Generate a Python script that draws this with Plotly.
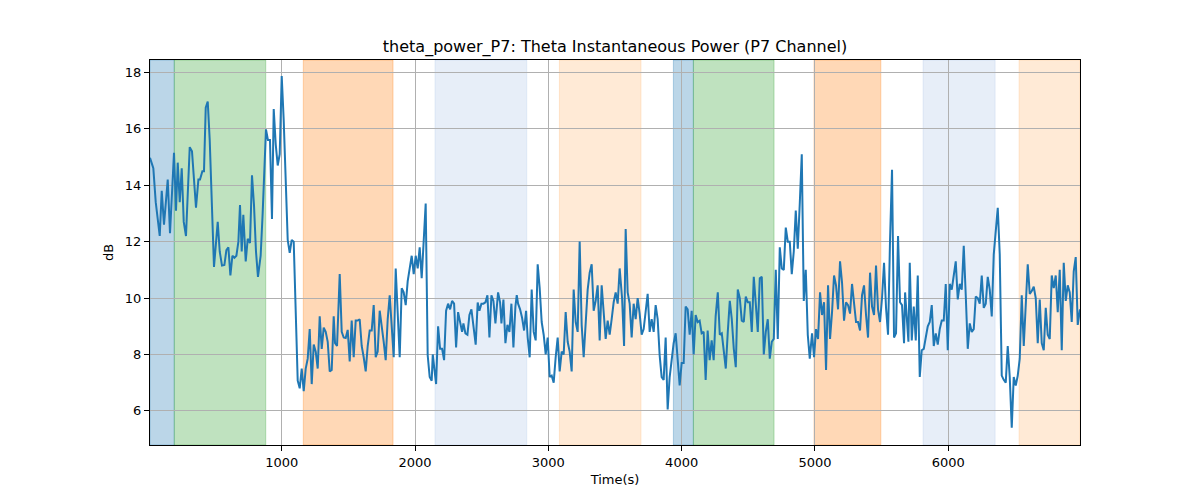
import plotly.graph_objects as go

# ---- data ----
time_s = [12, 37, 55, 85, 100, 117, 145, 162, 192, 207, 220, 235, 250, 265, 282, 310, 327, 357, 375, 387,
          405, 417, 430, 445, 460, 475, 492, 520, 535, 552, 570, 585, 600, 615, 630, 645, 660, 675,
          687, 700, 712, 730, 745, 762, 777, 792, 807, 822, 842, 857, 872, 882, 897, 912, 927, 940, 955, 970,
          985, 1000, 1015, 1030, 1045, 1060, 1075, 1090, 1105, 1120, 1135, 1150, 1165, 1180, 1195, 1210, 1225,
          1240, 1255, 1270, 1285, 1300, 1315, 1330, 1345, 1360, 1375, 1390,
          1400, 1415, 1435, 1450, 1465, 1480, 1495, 1510, 1525, 1540, 1555, 1570, 1585, 1600, 1615, 1630, 1645,
          1660, 1675, 1690, 1705, 1720, 1735, 1750, 1765, 1780, 1795, 1810, 1825, 1840, 1855, 1870, 1885, 1900,
          1915, 1930, 1945, 1960, 1975, 1990, 2005, 2020, 2035, 2050, 2065, 2080, 2095, 2110, 2125,
          2133, 2158, 2173, 2188, 2203, 2218, 2233, 2248, 2263, 2278, 2293, 2308, 2323, 2338, 2353, 2363, 2378,
          2393, 2408, 2423, 2438, 2455, 2470, 2483, 2498, 2513, 2528, 2543, 2558, 2573, 2588, 2603, 2623, 2638,
          2648, 2663, 2678, 2693, 2708, 2723, 2738, 2753, 2763, 2773, 2788, 2803, 2818, 2833,
          2845, 2860, 2875, 2890, 2905, 2920, 2935, 2950, 2965, 2980, 2995, 3010, 3025, 3040, 3055, 3070, 3085,
          3100, 3115, 3130, 3145, 3160, 3175, 3190, 3205, 3220, 3235, 3250, 3265, 3280, 3295, 3310, 3325, 3340,
          3355, 3370, 3385, 3400, 3415, 3430, 3445, 3460, 3475, 3490, 3505, 3520, 3535,
          3553, 3568, 3580, 3595, 3610, 3625, 3640, 3655, 3670, 3685, 3700, 3715, 3730, 3745, 3760, 3775, 3790,
          3805, 3820, 3835, 3850, 3865, 3880, 3895, 3910, 3925, 3940, 3955, 3970, 3985, 4000, 4015, 4030, 4045,
          4060, 4075, 4090, 4105, 4120, 4135, 4150, 4165, 4180, 4195, 4210, 4225, 4240, 4255,
          4271, 4286, 4301, 4316, 4331, 4346, 4361, 4376, 4391, 4406, 4421, 4436, 4451, 4466, 4481, 4496, 4511,
          4526, 4541, 4556, 4571, 4586, 4601, 4616, 4631, 4646, 4661, 4676, 4691, 4706, 4721, 4736, 4751, 4766,
          4781, 4796, 4811, 4826, 4841, 4856, 4871, 4886, 4901, 4916, 4931, 4946, 4961,
          4978, 4993, 5008, 5023, 5038, 5053, 5068, 5083, 5098, 5113, 5128, 5143, 5158, 5173, 5188, 5203, 5218,
          5233, 5248, 5263, 5278, 5293, 5308, 5323, 5338, 5353, 5368, 5383, 5398, 5413, 5428, 5443, 5458, 5473,
          5488, 5503, 5518, 5533, 5548, 5563, 5578, 5593, 5608, 5623, 5638, 5653, 5668,
          5676, 5688, 5701, 5711, 5726, 5741, 5756, 5771, 5786, 5801, 5816, 5831, 5846, 5861, 5876, 5891, 5906,
          5921, 5936, 5951, 5966, 5981, 5996, 6011, 6026, 6041, 6056, 6071, 6086, 6101, 6116, 6131, 6146, 6161,
          6176, 6191, 6206, 6221, 6236, 6251, 6266, 6281, 6296, 6311, 6326, 6341, 6356,
          6371, 6386, 6401, 6416, 6431, 6446, 6461, 6476, 6491, 6506, 6521, 6536, 6551, 6566, 6581, 6596, 6611,
          6626, 6641, 6656, 6671, 6686, 6701, 6716, 6731, 6746, 6761, 6776, 6791, 6806, 6821, 6836, 6851, 6866,
          6881, 6896, 6911, 6926, 6941, 6956, 6971, 6988]

power_db = [14.97, 14.6, 13.4, 12.2, 13.8, 12.6, 14.2, 12.3, 15.15, 13.1, 14.8, 13.4, 14.6, 12.7, 12.2, 15.35, 15.2, 13.2, 14.2, 14.2,
            14.5, 14.5, 16.75, 16.97, 15.6, 13.7, 11.1, 12.7, 11.65, 11.15, 11.17, 11.7, 11.8, 10.8, 11.5, 11.43, 11.5, 12.0,
            13.3, 11.65, 12.95, 11.3, 12.1, 11.95, 14.35, 13.3, 11.65, 10.75, 11.5, 13.0, 15.1, 15.98, 15.6, 15.6, 12.8, 16.7, 15.45, 14.7,
            15.1, 17.87, 16.3, 13.9, 12.06, 11.6, 12.06, 12.0, 9.15, 7.07, 6.8, 7.5, 6.7, 7.5, 7.85, 8.9, 6.95,
            8.35, 8.1, 7.5, 9.35, 8.2, 8.95, 8.8, 8.45, 7.4, 7.45, 9.35,
            8.4, 8.3, 10.85, 8.8, 8.6, 8.58, 8.87, 7.75, 9.2, 7.9, 9.2, 9.2, 9.25, 8.3, 7.9, 7.4, 8.3,
            8.85, 8.85, 9.75, 7.9, 8.1, 9.55, 9.05, 8.45, 7.8, 9.25, 10.1, 8.8, 7.9, 11.05, 9.25, 7.9, 10.35,
            10.2, 9.75, 10.6, 11.05, 11.5, 10.85, 11.5, 11.05, 11.8, 10.7, 12.2, 13.35, 7.97, 7.2, 7.07,
            8.0, 6.95, 9.0, 8.2, 8.2, 7.8, 9.55, 9.8, 9.6, 9.9, 9.8, 8.25, 9.5, 9.15, 8.8, 9.1, 8.75,
            8.7, 9.4, 9.6, 9.0, 8.35, 9.84, 9.55, 9.8, 9.8, 9.85, 10.1, 8.6, 10.1, 9.9, 9.1, 10.2, 9.85,
            9.1, 9.95, 8.4, 9.05, 8.8, 9.8, 8.25, 9.7, 10.1, 9.8, 9.6, 9.3, 8.85, 9.55,
            8.6, 7.9, 10.3, 8.8, 8.5, 11.2, 10.35, 9.15, 8.7, 8.0, 8.6, 7.2, 7.25, 7.0, 7.9, 8.6, 7.4,
            8.1, 8.0, 9.5, 8.45, 8.1, 7.4, 10.3, 9.15, 8.8, 12.0, 9.05, 7.9, 9.15, 10.3, 10.9, 11.2, 9.55,
            9.9, 10.45, 8.5, 10.45, 9.6, 8.55, 9.2, 8.7, 9.25, 9.85, 10.2, 9.8, 11.05,
            10.0, 8.3, 12.45, 10.2, 9.8, 8.6, 9.8, 9.25, 10.0, 9.45, 8.7, 8.9, 9.6, 10.15, 8.8, 9.25, 8.8,
            9.75, 9.25, 7.97, 7.2, 7.1, 8.6, 6.05, 7.2, 7.9, 8.4, 8.75, 7.65, 6.9, 7.7, 7.7, 9.7, 9.6,
            8.7, 9.55, 8.0, 9.4, 9.15, 9.2, 8.75, 8.8, 7.1, 8.85, 7.8, 8.5, 7.8, 9.35,
            10.2, 8.7, 8.75, 8.0, 7.5, 8.8, 9.9, 9.25, 8.2, 7.55, 10.3, 10.0, 9.2, 9.15, 10.05, 9.85, 9.85,
            8.8, 10.75, 9.8, 8.8, 10.7, 10.75, 8.0, 8.8, 9.25, 7.85, 8.45, 8.55, 11.0, 8.55, 11.8, 11.05, 11.0,
            12.5, 12.0, 12.0, 10.85, 11.65, 13.1, 11.75, 13.35, 15.1, 9.9, 11.0, 8.7, 7.85,
            8.75, 7.9, 8.9, 8.55, 10.2, 9.4, 9.85, 7.45, 10.45, 8.55, 9.5, 10.8, 10.45, 9.6, 11.3, 10.55, 9.2,
            9.85, 9.75, 9.45, 10.5, 9.9, 9.15, 9.15, 8.85, 10.1, 10.45, 9.4, 8.6, 10.9, 9.7, 9.4, 11.15, 9.6,
            9.15, 10.0, 11.25, 9.65, 8.7, 12.05, 14.55, 8.6, 8.75, 12.2, 9.85, 9.75, 8.4,
            10.2, 9.5, 8.45, 11.25, 8.5, 9.7, 8.5, 10.8, 7.2, 8.15, 8.2, 8.6, 9.0, 9.15, 9.75, 8.3, 8.75,
            8.35, 8.9, 9.2, 9.2, 10.5, 8.15, 10.5, 10.3, 10.8, 11.3, 9.95, 10.5, 10.3, 11.85, 10.1, 8.2, 9.1,
            8.8, 8.9, 10.05, 10.0, 9.8, 10.8, 9.65, 9.8, 10.75, 10.3, 9.35, 11.55, 12.4,
            13.2, 11.55, 7.25, 7.1, 7.0, 8.3, 7.2, 5.4, 7.2, 6.9, 7.25, 7.85, 10.1, 8.3, 9.6, 11.2, 10.15,
            10.25, 10.4, 10.0, 8.4, 9.95, 8.4, 8.15, 9.65, 8.7, 8.55, 10.8, 10.35, 10.8, 9.5, 11.0, 8.15, 11.25,
            9.9, 10.45, 10.2, 9.15, 10.95, 11.45, 9.05, 9.6]

span_start = [12, 194, 1162, 2150, 3083, 3938, 4088, 4993, 5811, 6531]
span_end = [194, 880, 1835, 2838, 3695, 4088, 4693, 5494, 6351, 6988]
span_kind = ["blue", "green", "orange", "lightblue", "lightorange",
             "blue", "green", "orange", "lightblue", "lightorange"]

x_ticks = [1000, 2000, 3000, 4000, 5000, 6000]
y_ticks = [6, 8, 10, 12, 14, 16, 18]

# ---- styles ----
kind_color = {
    "blue": "rgba(31,119,180,0.3)",
    "green": "rgba(44,160,44,0.3)",
    "orange": "rgba(255,127,14,0.3)",
    "lightblue": "rgba(174,199,232,0.3)",
    "lightorange": "rgba(255,187,120,0.3)",
}

fig = go.Figure()
fig.add_trace(go.Scatter(x=time_s, y=power_db, mode="lines",
                         line=dict(color="#1f77b4", width=2), showlegend=False))

for s, e, k in zip(span_start, span_end, span_kind):
    fig.add_shape(type="rect", xref="x", yref="paper", x0=s, x1=e, y0=0, y1=1,
                  fillcolor=kind_color[k], line=dict(color=kind_color[k], width=1), layer="below")

font = dict(family="DejaVu Sans", size=13, color="black")
axis_common = dict(showline=True, mirror=True, linecolor="black", linewidth=1,
                   ticks="outside", ticklen=5, tickcolor="black", tickwidth=1,
                   showgrid=True, gridcolor="#b0b0b0", gridwidth=1, zeroline=False,
                   tickfont=font)

# the page adds an 8px body offset; margins compensate so the plot box lands at 150..1080 x 60..445
fig.update_layout(
    width=1200, height=500,
    margin=dict(l=142, r=128, t=52, b=63),
    paper_bgcolor="white", plot_bgcolor="white",
    font=font,
    title=dict(text="theta_power_P7: Theta Instantaneous Power (P7 Channel)",
               x=(615 - 8) / 1200, xref="container", xanchor="center",
               y=1 - 38 / 500, yref="container", yanchor="middle",
               font=dict(family="DejaVu Sans", size=16, color="black")),
    xaxis=dict(range=[12, 6988], tickvals=x_ticks,
               title=dict(text="Time(s)", font=font, standoff=6), **axis_common),
    yaxis=dict(range=[4.79, 18.44], tickvals=y_ticks,
               title=dict(text="dB", font=font, standoff=8), **axis_common),
)

fig.write_html("out.html")
